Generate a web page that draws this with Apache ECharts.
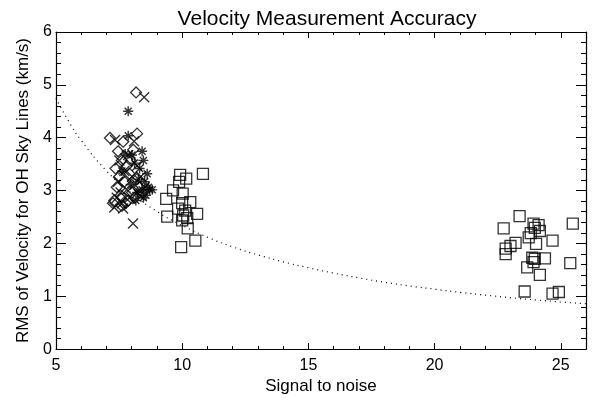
<!DOCTYPE html>
<html><head><meta charset="utf-8">
<script src="https://cdn.jsdelivr.net/npm/echarts@6/dist/echarts.min.js"></script>
<style>html,body{margin:0;padding:0;background:#fff}#wrap{position:relative;width:597px;height:400px}#axes,#marks{position:absolute;left:0;top:0;width:597px;height:400px}</style>
</head><body><div id="wrap"><div id="axes"></div><div id="marks"></div></div>
<script>
const title = 'Velocity Measurement Accuracy';
const xName = 'Signal to noise';
const yName = 'RMS of Velocity for OH Sky Lines (km/s)';

const diamonds = [[8.16,4.87],[7.13,4.02],[8.2,4.1],[7.45,3.77],[7.6,3.6],[7.35,3.45],[7.5,3.3],[7.8,3.5],[7.7,3.2],[7.4,3.1],[7.9,3.35],[8.0,3.0],[7.55,2.95],[7.3,2.85],[7.25,2.8],[7.6,2.75],[7.75,2.8],[8.1,2.9],[8.3,3.1],[7.95,3.6],[8.05,3.8],[7.65,3.95],[8.4,3.0],[7.85,2.85],[8.2,3.25]];
const crosses = [[8.48,4.78],[7.33,3.98],[8.08,3.96],[7.5,3.6],[7.7,3.4],[8.0,3.3],[7.45,3.2],[7.8,3.05],[8.2,3.5],[7.3,2.72],[7.6,2.8],[7.9,2.9],[8.3,2.95],[8.04,2.42],[7.55,3.0],[8.1,3.15],[7.4,2.9],[8.5,3.1],[7.85,3.7],[7.65,2.7],[8.35,3.3]];
const asterisks = [[7.85,4.52],[7.85,4.06],[7.73,3.72],[8.4,3.77],[8.45,3.6],[8.3,3.45],[8.6,3.35],[8.1,3.55],[8.0,3.7],[8.5,3.2],[8.7,3.05],[8.4,3.05],[8.2,3.0],[8.55,2.95],[7.95,3.15],[8.25,3.25],[8.65,3.1],[7.6,3.4],[8.15,2.85],[8.45,2.9],[8.8,3.05]];
const squares = [[9.9,3.33],[10.14,3.26],[10.8,3.35],[9.86,3.2],[9.62,3.04],[10.0,2.98],[9.35,2.88],[10.3,2.82],[9.98,2.8],[9.82,2.7],[10.1,2.66],[10.57,2.6],[9.39,2.55],[10.02,2.57],[10.18,2.52],[9.98,2.48],[10.2,2.33],[10.5,2.1],[9.94,1.98],
  [23.3,2.56],[22.67,2.33],[23.85,2.42],[23.9,2.34],[23.74,2.24],[23.66,2.16],[23.14,2.06],[22.94,2.0],[22.75,1.95],[22.75,1.85],[23.8,1.78],[23.85,1.7],[23.6,1.6],[23.5,1.15],
  [24.05,2.39],[24.1,2.28],[25.4,2.42],[23.95,2.04],[24.6,2.1],[24.3,1.77],[23.9,1.76],[25.3,1.68],[24.1,1.46],[24.6,1.11],[24.85,1.14]];
const curve = [[5,4.76],[5.5,4.33],[6,3.97],[7,3.40],[8,2.98],[9,2.64],[10,2.38],[11,2.16],[12,1.98],[13,1.83],[14,1.70],[15,1.59],[16,1.49],[17,1.40],[18,1.32],[19,1.25],[20,1.19],[21,1.13],[22,1.08],[23,1.03],[24,0.99],[25,0.95],[26,0.92]];

const font = 'Liberation Sans, Arial, sans-serif';
const gridBox = {left:56, right:9, top:32, bottom:47};
const xRange = {min:5, max:26, interval:5};
const yRange = {min:0, max:6, interval:1};

// Chart 1: frame, ticks, labels, title
const axesChart = echarts.init(document.getElementById('axes'));
const blank = () => '';
axesChart.setOption({
  animation:false,
  title:{text:title, left:322, top:4, textAlign:'center',
    textStyle:{color:'#000', fontSize:21, fontWeight:'normal', fontFamily:font}},
  grid:gridBox,
  xAxis:[
    Object.assign({type:'value', splitLine:{show:false},
      axisLine:{show:true, onZero:false, lineStyle:{color:'#000', width:1.2}},
      axisTick:{show:true, inside:true, length:6, lineStyle:{color:'#000', width:1}},
      minorTick:{show:true, splitNumber:5, length:3, lineStyle:{color:'#000'}},
      axisLabel:{showMaxLabel:false, color:'#000', fontSize:16, fontFamily:font, margin:8},
      name:xName, nameLocation:'middle', nameGap:26,
      nameTextStyle:{color:'#000', fontSize:17, fontFamily:font}}, xRange),
    Object.assign({type:'value', position:'top', splitLine:{show:false},
      axisLine:{show:true, onZeroAxisIndex:2, lineStyle:{color:'#000', width:1.2}},
      axisTick:{show:true, inside:true, length:6, lineStyle:{color:'#000', width:1}},
      minorTick:{show:true, splitNumber:5, length:3, lineStyle:{color:'#000'}},
      axisLabel:{formatter:blank}}, xRange)
  ],
  yAxis:[
    Object.assign({type:'value', splitLine:{show:false},
      axisLine:{show:true, lineStyle:{color:'#000', width:1.2}},
      axisTick:{show:true, inside:true, length:10, lineStyle:{color:'#000', width:1}},
      minorTick:{show:true, splitNumber:5, length:5, lineStyle:{color:'#000'}},
      axisLabel:{color:'#000', fontSize:16, fontFamily:font, margin:4},
      name:yName, nameLocation:'middle', nameGap:20,
      nameTextStyle:{color:'#000', fontSize:17, fontFamily:font}}, yRange),
    Object.assign({type:'value', position:'right', splitLine:{show:false},
      axisLine:{show:true, lineStyle:{color:'#000', width:1.2}},
      axisTick:{show:true, inside:true, length:10, lineStyle:{color:'#000', width:1}},
      minorTick:{show:true, splitNumber:5, length:5, lineStyle:{color:'#000'}},
      axisLabel:{formatter:blank}}, yRange),
    {type:'value', show:false, min:1, max:2}
  ],
  series:[{type:'scatter', data:[]}]
});

// Chart 2: the data marks, on the same grid and scales
const markChart = echarts.init(document.getElementById('marks'));
const hollow = {color:'none', borderColor:'#000', borderWidth:1.3};
const strokeOnly = {color:'none', borderColor:'#000', borderWidth:1.4};
markChart.setOption({
  animation:false,
  grid:gridBox,
  xAxis:Object.assign({type:'value', show:false}, xRange),
  yAxis:Object.assign({type:'value', show:false}, yRange),
  series:[
    {type:'line', data:curve, smooth:true, showSymbol:false, symbol:'none',
      lineStyle:{color:'#000', width:1.2, type:[1,4]}},
    {type:'scatter', data:squares, symbol:'rect', symbolSize:11, itemStyle:hollow},
    {type:'scatter', data:diamonds, symbol:'path://M5,0L10,5L5,10L0,5Z', symbolSize:11, itemStyle:hollow},
    {type:'scatter', data:crosses, symbol:'path://M0,0L10,10M10,0L0,10', symbolSize:10, itemStyle:strokeOnly},
    {type:'scatter', data:asterisks, symbol:'path://M5,0L5,10M0,5L10,5M1.5,1.5L8.5,8.5M8.5,1.5L1.5,8.5', symbolSize:10, itemStyle:strokeOnly}
  ]
});
</script></body></html>
